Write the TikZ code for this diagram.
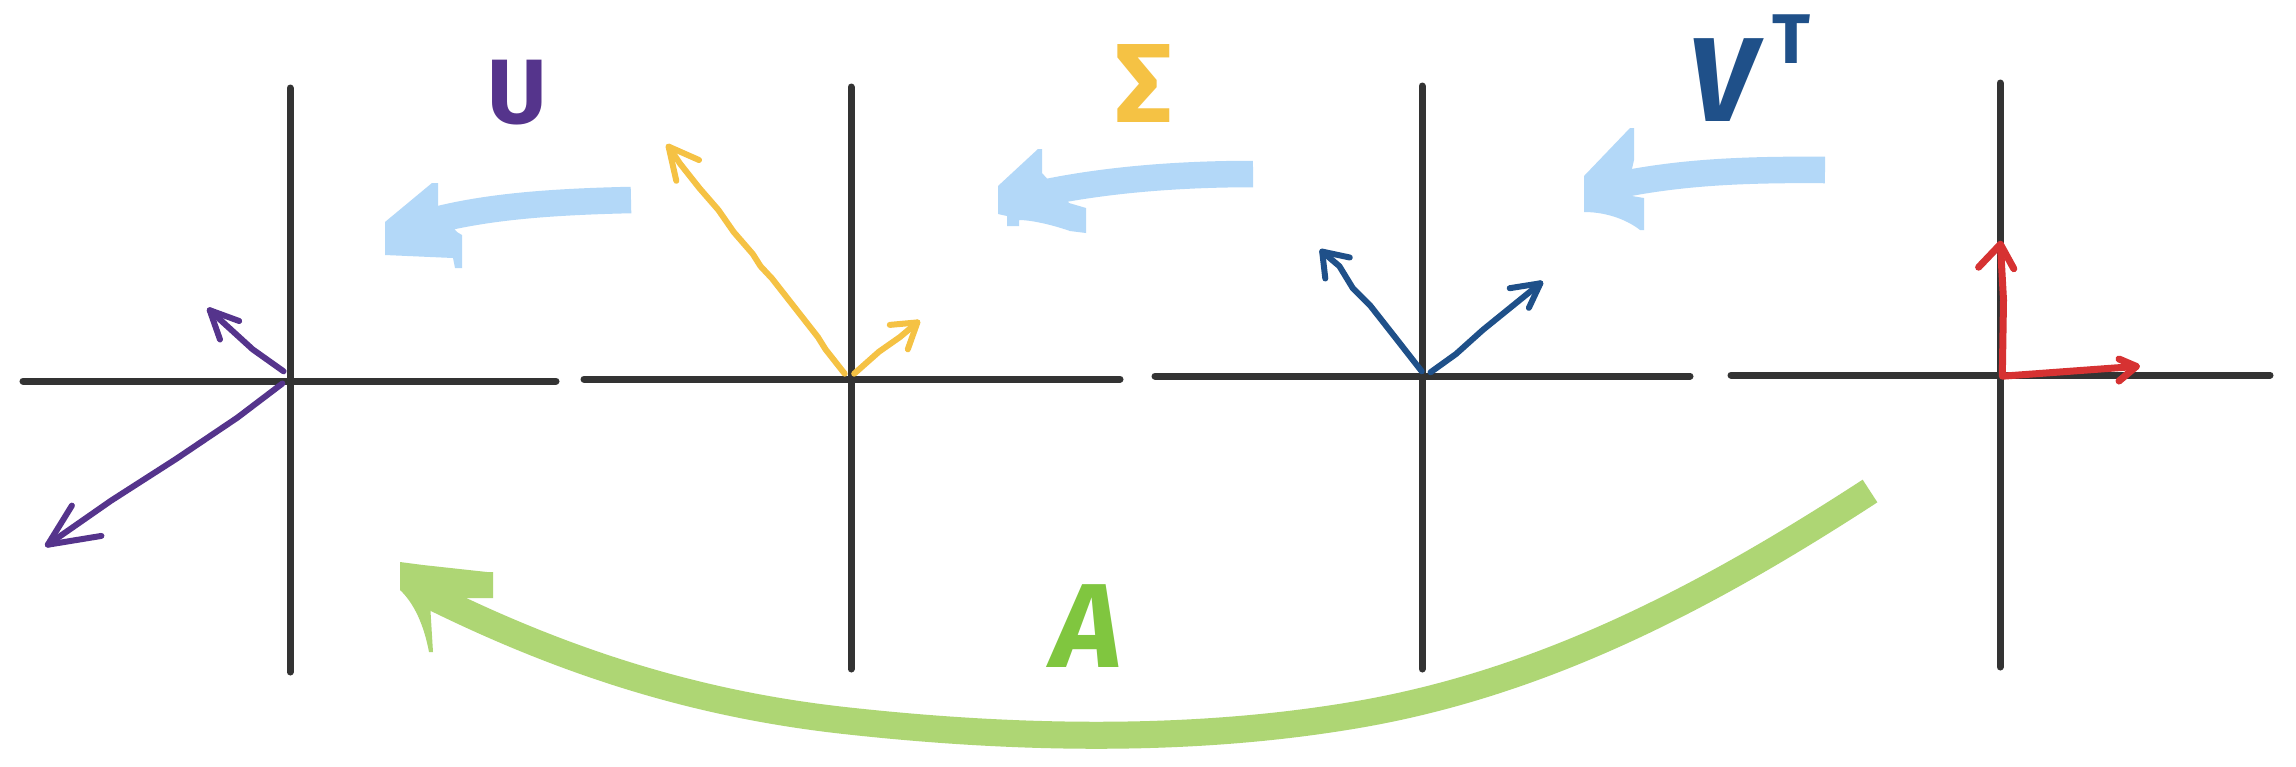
\documentclass[tikz,border=0pt]{standalone}
\usepackage{fontspec}
\setmainfont{Fira Sans}
\definecolor{axisgray}{HTML}{333333}
\definecolor{upurple}{HTML}{55348C}
\definecolor{syellow}{HTML}{F5C244}
\definecolor{vblue}{HTML}{1F5089}
\definecolor{ired}{HTML}{D63232}
\definecolor{lblue}{HTML}{B3D8F8}
\definecolor{agreen}{HTML}{AED674}
\definecolor{lettergreen}{HTML}{80C63F}
\begin{document}
\begin{tikzpicture}[x=0.01cm,y=-0.01cm,
  axis/.style={draw=axisgray,line width=0.07cm,line cap=round},
  vec/.style={line width=0.06cm,line cap=round,line join=round},
  marker/.style={line width=0.265cm,line cap=butt},
  lbl/.style={inner sep=0pt,anchor=center}]
\useasboundingbox (0,0) rectangle (2296,766);
\fill[white] (0,0) rectangle (2296,766);

% ---------- axes ----------
\coordinate (h1w) at (23,381);   \coordinate (h1e) at (556,381);
\coordinate (v1n) at (290,88);   \coordinate (v1s) at (290,672);
\coordinate (h2w) at (584,379);  \coordinate (h2e) at (1120,379);
\coordinate (v2n) at (851,87);   \coordinate (v2s) at (851,669);
\coordinate (h3w) at (1155,376); \coordinate (h3e) at (1690,376);
\coordinate (v3n) at (1422,86);  \coordinate (v3s) at (1422,669);
\coordinate (h4w) at (1731,375); \coordinate (h4e) at (2270,375);
\coordinate (v4n) at (2000,83);  \coordinate (v4s) at (2000,667);
\foreach \p in {1,2,3,4}{
  \draw[axis] (h\p w) -- (h\p e);
  \draw[axis] (v\p n) -- (v\p s);
}

% ---------- light blue arrows ----------
% arrow U
\coordinate (b1s) at (631,200); \coordinate (b1e) at (428,222);
\draw[lblue,marker] (b1s) .. controls (540,202) and (480,208) .. (b1e);
\fill[lblue] (385,222) -- (432,183) -- (438,183) -- (438,210) -- (457,232)
  -- (462,235) -- (462,268) -- (455,268) -- (453,258) -- (385,255) -- cycle;
% arrow Sigma
\coordinate (b2s) at (1253,174); \coordinate (b2e) at (1013,200);
\draw[lblue,marker] (b2s) .. controls (1150,174) and (1070,185) .. (b2e);
\fill[lblue] (998,186) -- (1038,149) -- (1042,149) -- (1042,173) -- (1069,203)
  -- (1086,208) -- (1086,233) -- (1070,231) .. controls (1050,224) and (1030,220) .. (1019,220)
  -- (1019,226) -- (1007,226) -- (1007,216) -- (998,214) -- cycle;
% arrow V^T
\coordinate (b3s) at (1825,170); \coordinate (b3e) at (1595,190);
\draw[lblue,marker] (b3s) .. controls (1720,169) and (1660,175) .. (b3e);
\fill[lblue] (1584,176) -- (1630,128) -- (1634,128) -- (1634,160) -- (1626,195)
  -- (1644,198) -- (1644,230) -- (1640,230) .. controls (1630,222) and (1610,212) .. (1584,212) -- cycle;

% ---------- green arrow A ----------
\coordinate (gs) at (1870,491); \coordinate (g1) at (1355,715);
\coordinate (g2) at (849,721); \coordinate (ge) at (425,593);
\draw[agreen,marker,line width=0.27cm] (gs) .. controls (1710,595) and (1545,683) .. (g1)
  .. controls (1190,743) and (1014,739) .. (g2)
  .. controls (709,706) and (575,668) .. (ge);
\fill[agreen] (400,562) -- (423,565) -- (487,572) -- (493,572) -- (493,598) -- (463,598)
  -- (430,603) -- (433,652) -- (429,652) .. controls (424,625) and (414,603) .. (400,590) -- cycle;

% ---------- labels ----------
\node[lbl,text=upurple,font=\bfseries\fontsize{26}{26}\selectfont] (lu) at (517,93) {U};
\node[lbl,text=syellow,font=\bfseries\fontsize{32}{32}\selectfont] (ls) at (1144,83) {Σ};
\node[lbl,text=vblue,font=\bfseries\itshape\fontsize{34}{34}\selectfont] (lv) at (1722,80) {V};
\node[lbl,text=vblue,font=\bfseries\fontsize{20}{20}\selectfont] (lt) at (1791,39) {T};
\node[lbl,text=lettergreen,font=\bfseries\itshape\fontsize{34}{34}\selectfont] (la) at (1087,626) {A};

% ---------- purple vectors (U) ----------
\coordinate (o1) at (283.6,371.3); \coordinate (p1a) at (209.7,310.2);
\draw[upurple,vec] (o1) -- (252.6,349.3) -- (p1a);
\draw[upurple,vec] (239.2,321) -- (p1a) -- (220,339.5);
\coordinate (o1b) at (282.4,383.5); \coordinate (p1b) at (47.8,544.7);
\draw[upurple,vec] (o1b) -- (237.3,417.7) -- (176,459) -- (111,500.7) -- (p1b);
\draw[upurple,vec] (71.9,505.6) -- (p1b) -- (101.4,535.9);

% ---------- yellow vectors (Sigma) ----------
\coordinate (o2) at (844.7,373.7); \coordinate (p2a) at (668.6,146.6);
\draw[syellow,vec] (o2) -- (825.5,349.3) -- (817.9,337.1) -- (798.8,312.7) -- (772,278.5)
  -- (760.5,266.2) -- (752.8,254) -- (733.7,232) -- (718.4,210) -- (699.3,188) -- (680.1,163.7) -- (p2a);
\draw[syellow,vec] (699,160) -- (p2a) -- (676.3,180.8);
\coordinate (o2b) at (854.2,373.7); \coordinate (p2b) at (917.4,322.4);
\draw[syellow,vec] (o2b) -- (879,351.7) -- (900,337) -- (p2b);
\draw[syellow,vec] (889.8,324.9) -- (p2b) -- (907.8,349.3);

% ---------- blue vectors (V^T) ----------
\coordinate (o3) at (1421.7,371.3); \coordinate (p3a) at (1322.2,251.6);
\draw[vblue,vec] (o3) -- (1394.9,337) -- (1370,305.3) -- (1352.8,288.2) -- (1339.4,266.2) -- (p3a);
\draw[vblue,vec] (1349.8,257.5) -- (p3a) -- (1325.3,278.5);
\coordinate (o3b) at (1430.5,372.3); \coordinate (p3b) at (1540.4,283.3);
\draw[vblue,vec] (o3b) -- (1456,354) -- (1483,329.8) -- (p3b);
\draw[vblue,vec] (1509.7,288.2) -- (p3b) -- (1528.9,307.8);

% ---------- red vectors (identity) ----------
\coordinate (o4) at (2002.3,376.2); \coordinate (p4a) at (2000.4,244.3); \coordinate (p4b) at (2136.3,366.4);
\draw[ired,vec,line width=0.07cm] (p4b) -- (o4) -- (2003.5,300) -- (p4a);
\draw[ired,vec,line width=0.07cm] (1978.6,267.2) -- (p4a) -- (2013.8,268.7);
\draw[ired,vec,line width=0.07cm] (2119,359) -- (p4b) -- (2119,381);
\end{tikzpicture}
\end{document}
